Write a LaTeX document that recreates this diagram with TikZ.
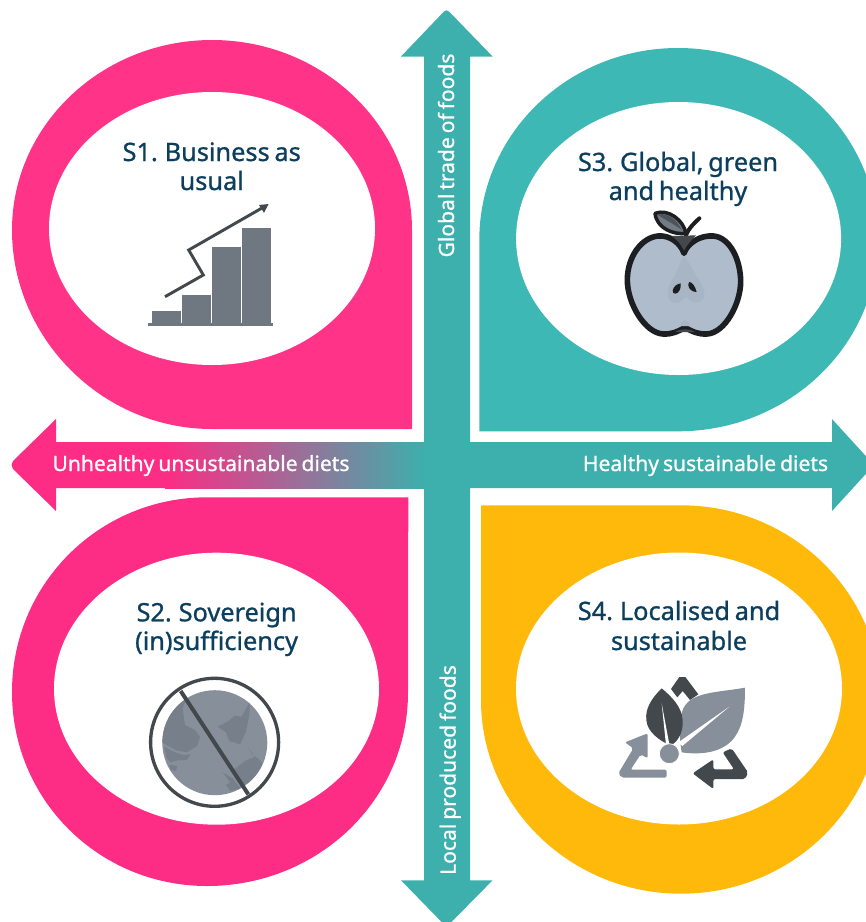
\documentclass[tikz,border=0pt]{standalone}
\usepackage{fontspec}
\setmainfont{Noto Sans}[WordSpace=0.72,BoldFont={Noto Sans},BoldFeatures={FakeBold=0.9,WordSpace=0.72}]
\usetikzlibrary{calc}
\definecolor{pinkA}{HTML}{FF3488}
\definecolor{pinkB}{HTML}{FD2C84}
\definecolor{tealA}{HTML}{3DAFAC}
\definecolor{tealB}{HTML}{3EB8B4}
\definecolor{amber}{HTML}{FFB90B}
\definecolor{inkblue}{HTML}{0C3F5E}
\definecolor{chartgrey}{HTML}{6F7781}
\definecolor{darkgrey}{HTML}{43484D}
\definecolor{leafgrey}{HTML}{87909A}
\definecolor{landgrey}{HTML}{767F8A}
\definecolor{applefill}{HTML}{AEBCCB}
\definecolor{applecore}{HTML}{A7B5C4}
\definecolor{appleline}{HTML}{1C1E22}
\tikzset{
  hole/.style={fill=white},
  title/.style={font=\bfseries\fontsize{19pt}{22pt}\selectfont,text=inkblue,anchor=base,inner sep=0pt},
  axislabel/.style={font=\bfseries\fontsize{15.8pt}{18pt}\selectfont,text=white,anchor=base,inner sep=0pt},
}
\begin{document}
\begin{tikzpicture}[x=0.75pt,y=-0.75pt]
\clip (0,0) rectangle (866,922);
% vertical axis
\fill[tealA] (424,880.3) -- (401,880.3) -- (446.5,927) -- (492.6,880.3) -- (470,880.3)
  -- (470,56.5) -- (492.6,56.5) -- (449,11.5) .. controls (447.5,10) and (445.5,10) .. (444,11.5) -- (401,56.5) -- (424,56.5) -- cycle;
% horizontal axis
\fill[tealA] (424,442) -- (832,442) -- (832,419) -- (874,465) -- (832,511) -- (832,488) -- (424,488) -- cycle;
\shade[left color=pinkB,right color=tealA] (165,442) rectangle (425,488);
\fill[pinkB] (166,442) -- (56,442) -- (56,419) -- (13,461) .. controls (11,463.5) and (11,466.5) .. (13,469) -- (56,511) -- (56,488) -- (166,488) -- cycle;
% S1
\fill[pinkA] (412,429) -- (412,230) .. controls (412,125) and (322,40) .. (212,40)
  .. controls (102,40) and (12,125) .. (12,230) .. controls (12,338) and (102,429) .. (212,429) -- cycle;
\fill[hole] (212,228.5) ellipse [x radius=163,y radius=136.5];
% S3
\fill[tealB] (479.3,431.3) -- (479.3,240) .. controls (479.3,134) and (568,48) .. (678,48)
  .. controls (788,48) and (878,134) .. (878,240) .. controls (878,346) and (788,431.3) .. (678,431.3) -- cycle;
\fill[hole] (678.6,238.5) ellipse [x radius=162.5,y radius=136.5];
% S2
\fill[pinkB] (408.3,497.3) -- (207,497.3) .. controls (99,497.3) and (12,584) .. (12,692)
  .. controls (12,800) and (99,886) .. (207,886) .. controls (318,886) and (408.3,800) .. (408,692) -- cycle;
\fill[hole] (216.5,688.7) ellipse [x radius=162.5,y radius=136];
% S4
\fill[amber] (481,505.3) -- (681,505.3) .. controls (791,505.3) and (881,592) .. (881,700)
  .. controls (881,807) and (791,893.7) .. (681,893.7) .. controls (571,893.7) and (481,807) .. (481,700) -- cycle;
\fill[hole] (679,688.5) ellipse [x radius=163,y radius=136];
% axis labels
\node[axislabel] (unhealthy) at (201,471) {Unhealthy unsustainable diets};
\node[axislabel] (healthy) at (705.5,471) {Healthy sustainable diets};
\node[axislabel,rotate=90] (globaltrade) at (454,155.5) {Global trade of foods};
\node[axislabel,rotate=90] (localfoods) at (455.7,770) {Local produced foods};
% titles
\node[title] (s1a) at (211.7,161) {S1. Business as};
\node[title] (s1b) at (211.7,190) {usual};
\node[title] (s3a) at (678,171) {S3. Global, green};
\node[title] (s3b) at (678,200) {and healthy};
\node[title] (s2a) at (216.6,621.3) {S2. Sovereign};
\node[title] (s2b) at (216.6,650) {(in)sufficiency};
\node[title] (s4a) at (679,620) {S4. Localised and};
\node[title] (s4b) at (679,650) {sustainable};
% bar chart icon
\fill[chartgrey] (148,323.4) rectangle (273,326);
\fill[chartgrey] (152,310.7) rectangle (180.6,323);
\fill[chartgrey] (182.3,294.7) rectangle (210.7,323);
\fill[chartgrey] (212,247.3) rectangle (240.7,323);
\fill[chartgrey] (242.3,228) rectangle (270.7,323);
\draw[darkgrey,line width=2.2pt,line join=miter] (165,296.7) -- (203.3,275) -- (188.7,250) -- (262,208);
\fill[darkgrey] (268.6,204) -- (259,205) -- (264,212.8) -- cycle;
% apple icon
\begin{scope}[shift={(610,200)},scale=1/3]
\draw[appleline,line width=3pt,line cap=round] (228,105) .. controls (236,85) and (250,72) .. (268,55);
\fill[applefill,draw=appleline,line width=4.2pt,line join=round]
  (222,160) .. controls (232,130) and (270,105) .. (310,108)
  .. controls (360,112) and (392,180) .. (392,245)
  .. controls (392,310) and (345,400) .. (290,402)
  .. controls (265,403) and (245,395) .. (225,382)
  .. controls (205,395) and (185,403) .. (160,402)
  .. controls (105,400) and (52,310) .. (52,240)
  .. controls (52,170) and (95,112) .. (145,108)
  .. controls (180,105) and (212,130) .. (222,160) -- cycle;
\fill[applecore] (222,170) .. controls (210,180) and (205,210) .. (190,235)
  .. controls (170,265) and (165,295) .. (190,308) .. controls (205,313) and (220,300) .. (228,290)
  .. controls (238,302) and (255,313) .. (270,305) .. controls (295,290) and (280,255) .. (260,230)
  .. controls (245,205) and (238,185) .. (222,170) -- cycle;
\fill[applecore] (212,378) .. controls (215,355) and (235,355) .. (240,378) -- cycle;
\fill[darkgrey] (185,108) -- (258,106) .. controls (245,120) and (230,135) .. (222,152) .. controls (215,135) and (200,118) .. (185,108) -- cycle;
\fill[darkgrey] (195,396) .. controls (205,390) and (215,388) .. (225,388) .. controls (235,388) and (245,390) .. (255,396) -- cycle;
\fill[appleline] (188,272) .. controls (190,260) and (200,252) .. (212,250) .. controls (214,265) and (207,280) .. (196,281) .. controls (191,281) and (188,278) .. (188,272) -- cycle;
\fill[appleline] (238,246) .. controls (247,246) and (256,260) .. (260,276) .. controls (248,276) and (236,268) .. (235,256) .. controls (235,251) and (236,248) .. (238,246) -- cycle;
\fill[leafgrey!70!darkgrey,draw=appleline,line width=2.6pt,line join=round] (135,40) .. controls (175,25) and (220,60) .. (228,100) .. controls (190,105) and (140,85) .. (135,40) -- cycle;
\fill[darkgrey!85!leafgrey] (143,44) .. controls (175,35) and (205,65) .. (215,90) .. controls (190,70) and (165,60) .. (143,44) -- cycle;
\end{scope}
% globe icon
\fill[leafgrey] (214.8,742.7) circle [radius=52.5];
\begin{scope}[shift={(140,675)},scale=1/3]
\clip (224,203) circle [radius=157];
\fill[landgrey] (140,70) -- (128,100) -- (135,150) -- (165,165) -- (180,185) -- (172,212) -- (140,232) -- (110,226) -- (70,205) -- (40,180) -- (60,90) -- cycle;
\fill[landgrey] (72,215) -- (100,230) -- (128,240) -- (152,238) -- (140,255) -- (112,256) -- (92,262) -- (80,250) -- cycle;
\fill[landgrey] (88,270) -- (112,272) -- (108,288) -- (92,285) -- cycle;
\fill[landgrey] (330,80) -- (305,125) -- (285,122) -- (262,140) -- (233,155) -- (258,172) -- (268,198) -- (300,208) -- (318,170) -- (328,120) -- cycle;
\fill[landgrey] (322,215) -- (335,235) -- (365,260) -- (372,290) -- (340,315) -- (310,330) -- (280,285) -- (315,258) -- (345,245) -- cycle;
\fill[landgrey] (248,292) -- (278,310) -- (302,340) -- (272,348) -- (258,330) -- (270,322) -- cycle;
\end{scope}
\draw[darkgrey,line width=2.5pt] (214.6,742.3) circle [radius=64];
\draw[darkgrey,line width=3pt] (180.7,691) -- (248.3,794.3);
% leaf and recycle icon
\begin{scope}[shift={(600,665)},scale=1/3]
\fill[darkgrey] (213,72) -- (238,36) -- (256,36) -- (295,88) -- (270,105) -- (248,78) -- (232,97) -- cycle;
\fill[leafgrey,rounded corners=1.5pt] (200,338) -- (65,338) -- (55,325) -- (100,250) -- (75,232) -- (143,205) -- (143,280) -- (122,268) -- (92,314) -- (200,314) -- cycle;
\fill[darkgrey,rounded corners=1.5pt] (395,250) -- (444,322) -- (436,342) -- (340,342) -- (340,372) -- (278,325) -- (340,283) -- (340,313) -- (402,313) -- (368,262) -- cycle;
\fill[leafgrey] (435,68) .. controls (370,80) and (300,80) .. (265,110) .. controls (235,135) and (235,200) .. (245,262)
  .. controls (300,270) and (370,265) .. (405,215) .. controls (430,180) and (435,130) .. (435,68) -- cycle;
\fill[white] (388,125) -- (235,232) -- (247,243) -- cycle;
\fill[darkgrey] (185,70) .. controls (155,100) and (135,130) .. (139,165) .. controls (142,200) and (175,225) .. (212,242)
  .. controls (240,225) and (250,195) .. (248,165) .. controls (245,125) and (215,95) .. (185,70) -- cycle;
\fill[white] (185,115) -- (198,240) -- (208,238) -- cycle;
\fill[leafgrey,draw=white,line width=0.6pt] (208,266) circle [radius=30];
\end{scope}
\end{tikzpicture}
\end{document}
